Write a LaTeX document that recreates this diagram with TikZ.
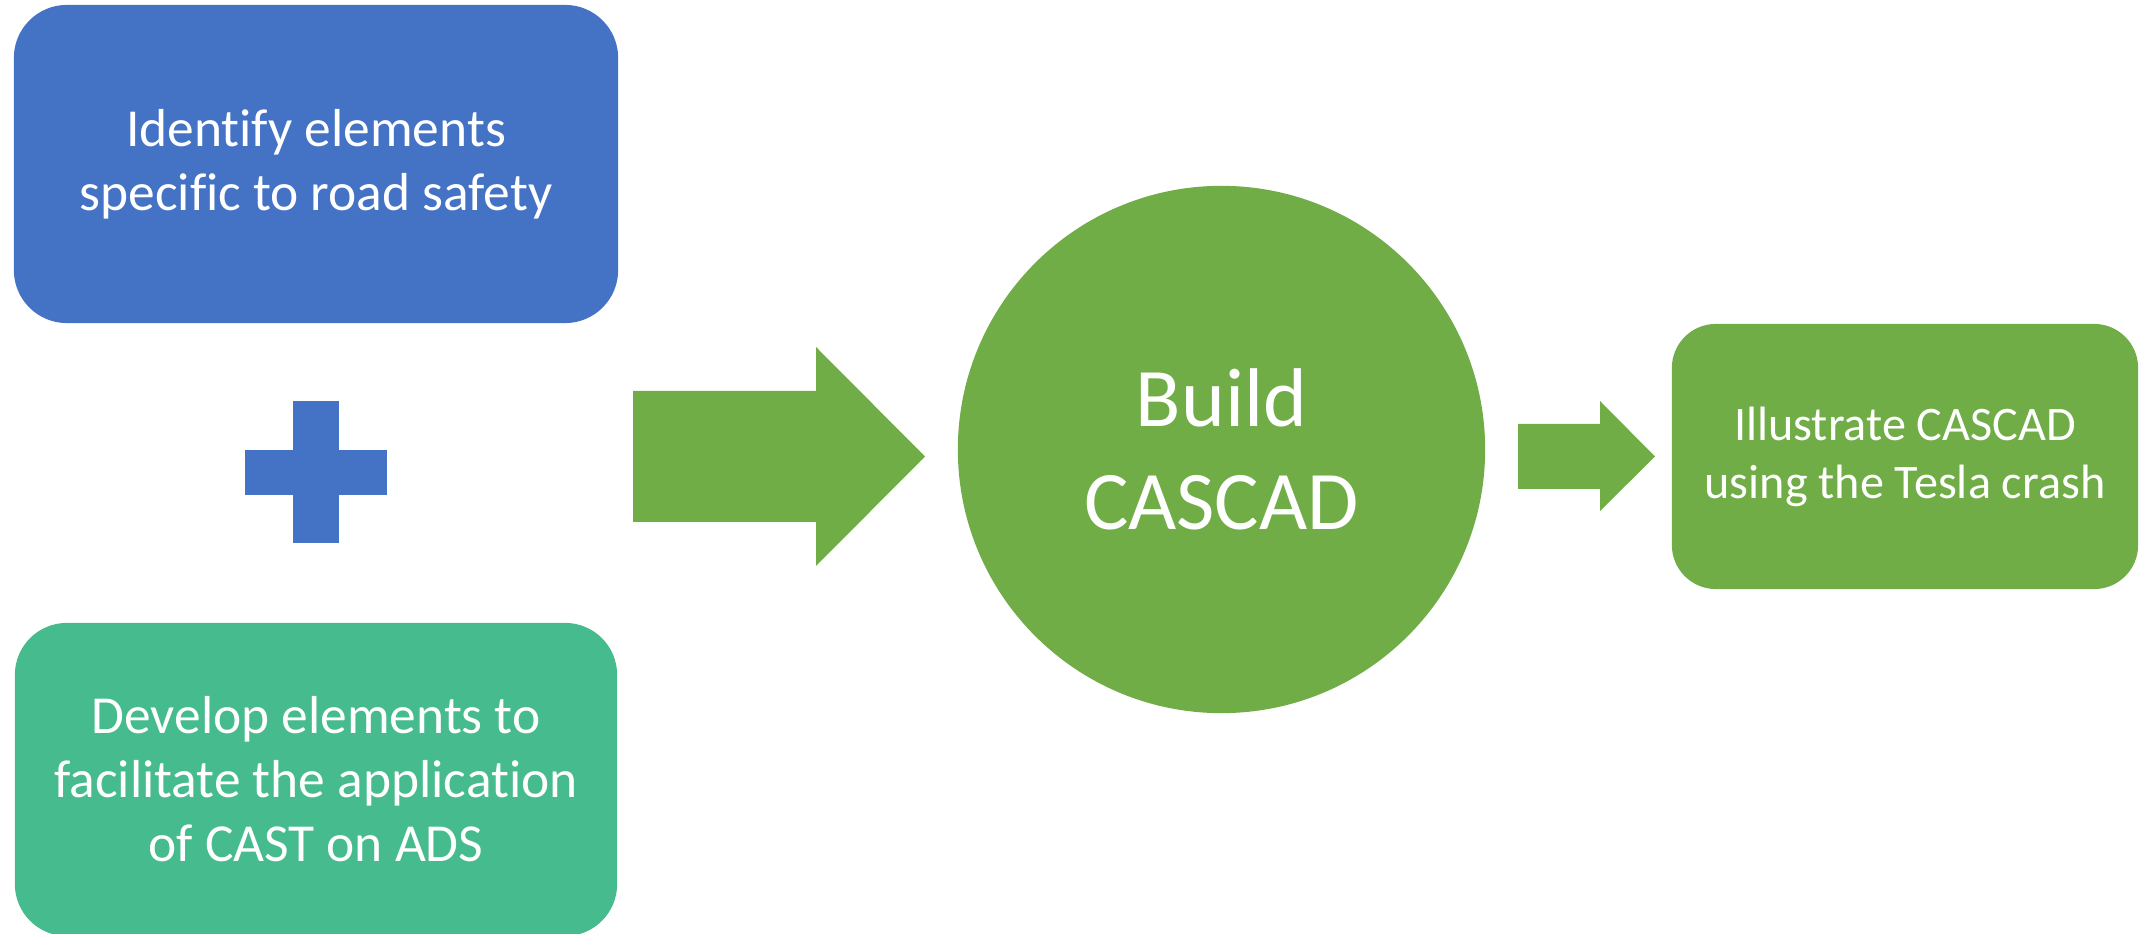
\documentclass[tikz,border=0pt]{standalone}
\usepackage{fontspec}
\setmainfont{Carlito}[Ligatures=NoCommon]
\definecolor{stepblue}{HTML}{4472C4}
\definecolor{stepteal}{HTML}{45BB8E}
\definecolor{stepgreen}{HTML}{70AD47}
\tikzset{
  panel/.style={rectangle, draw=none, inner sep=0pt, text=white, align=center},
  bigtext/.style={font=\fontsize{15.2}{18.2}\selectfont},
  hugetext/.style={font=\fontsize{23.7}{29.3}\selectfont},
  smalltext/.style={font=\fontsize{13.7}{16.5}\selectfont},
  blockarrow/.style={fill=stepgreen, draw=none}
}
\begin{document}
\begin{tikzpicture}[x=0.01cm, y=-0.01cm]
\useasboundingbox (0,0) rectangle (2141,934);

% left column: two input tasks joined by a plus sign
\node[panel, bigtext, fill=stepblue, minimum width=6.04cm, minimum height=3.18cm,
      rounded corners=0.53cm] (ident) at (316,164)
  {Identify elements\\specific to road safety};

\node[panel, bigtext, fill=stepteal, minimum width=6.02cm, minimum height=3.13cm,
      rounded corners=0.52cm] (develop) at (316,779.5)
  {Develop elements to\\facilitate the application\\of CAST on ADS};

\fill[stepblue] (293,401) rectangle (339,543);
\fill[stepblue] (245,450) rectangle (387,495);

% wide arrow into the central step
\coordinate (a1tail) at (633,456.5);
\coordinate (a1tip) at (925,456.5);
\fill[blockarrow] (a1tail) ++(0,-65.5) -- (816,391) -- (816,347) -- (a1tip)
  -- (816,566) -- (816,522) -- (633,522) -- cycle;

% central step
\node[circle, fill=stepgreen, draw=none, inner sep=0pt, minimum size=5.27cm,
      text=white, align=center, hugetext] (build) at (1221.5,449.5)
  {Build\\CASCAD};

% short arrow to the case study
\coordinate (a2tail) at (1518,456.5);
\coordinate (a2tip) at (1655,456.5);
\fill[blockarrow] (a2tail) ++(0,-32.5) -- (1600,424) -- (1600,401) -- (a2tip)
  -- (1600,511) -- (1600,489) -- (1518,489) -- cycle;

% case study
\node[panel, smalltext, fill=stepgreen, minimum width=4.66cm, minimum height=2.65cm,
      rounded corners=0.44cm] (illus) at (1905,456.5)
  {Illustrate CASCAD\\using the Tesla crash};
\end{tikzpicture}
\end{document}
